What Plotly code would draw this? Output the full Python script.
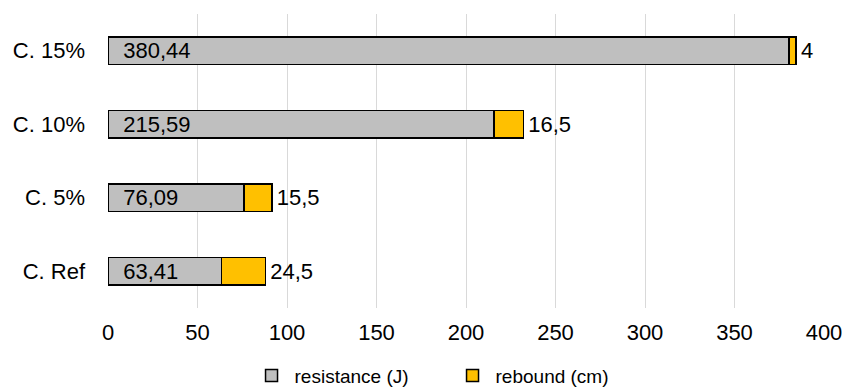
import plotly.graph_objects as go

# Categories (bottom to top) and series values
categories = ["C. Ref", "C. 5%", "C. 10%", "C. 15%"]
resistance_j = [63.41, 76.09, 215.59, 380.44]
rebound_cm = [24.5, 15.5, 16.5, 4.0]
x_ticks = [0, 50, 100, 150, 200, 250, 300, 350, 400]


def fmt_comma(v, decimals=None):
    s = f"{v:.{decimals}f}" if decimals is not None else f"{v:g}"
    return s.replace(".", ",")


NBSP = "\u00a0"
HAIR = "\u200a"
resistance_labels = [NBSP * 2 + fmt_comma(v, 2) for v in resistance_j]
rebound_labels = [HAIR + fmt_comma(v) for v in rebound_cm]

FONT = "Liberation Sans, Arial, sans-serif"

fig = go.Figure()
fig.add_trace(go.Bar(
    y=categories, x=resistance_j, orientation="h",
    name="resistance (J)",
    marker=dict(color="#BFBFBF", line=dict(color="#000000", width=1.5)),
    text=resistance_labels, textposition="inside", insidetextanchor="start",
    textfont=dict(family=FONT, size=22, color="#000000"),
    constraintext="none", cliponaxis=False,
))
fig.add_trace(go.Bar(
    y=categories, x=rebound_cm, orientation="h",
    name="rebound (cm)",
    marker=dict(color="#FFC000", line=dict(color="#000000", width=1.5)),
    text=rebound_labels, textposition="outside",
    textfont=dict(family=FONT, size=22, color="#000000"),
    constraintext="none", cliponaxis=False,
))

fig.update_layout(
    width=845, height=387,
    barmode="stack", bargap=0.62,
    plot_bgcolor="white", paper_bgcolor="white",
    margin=dict(l=108, r=21, t=14, b=79, autoexpand=False),
    font=dict(family=FONT, color="#000000"),
    showlegend=True,
    legend=dict(
        orientation="h", x=0.477, xanchor="center", y=-0.23, yanchor="middle",
        font=dict(family=FONT, size=19, color="#000000"),
        entrywidth=150, itemwidth=36, traceorder="normal",
    ),
)
fig.update_xaxes(
    range=[0, 400], tickvals=x_ticks, automargin=False,
    showgrid=True, gridcolor="#D9D9D9", gridwidth=1,
    zeroline=False, showline=False, ticks="",
    ticklabelstandoff=9,
    tickfont=dict(family=FONT, size=22, color="#000000"),
)
fig.update_yaxes(
    categoryorder="array", categoryarray=categories, automargin=False,
    showgrid=False, zeroline=False, showline=False, ticks="",
    ticklabelstandoff=22,
    tickfont=dict(family=FONT, size=22, color="#000000"),
)

fig.write_html("out.html")
